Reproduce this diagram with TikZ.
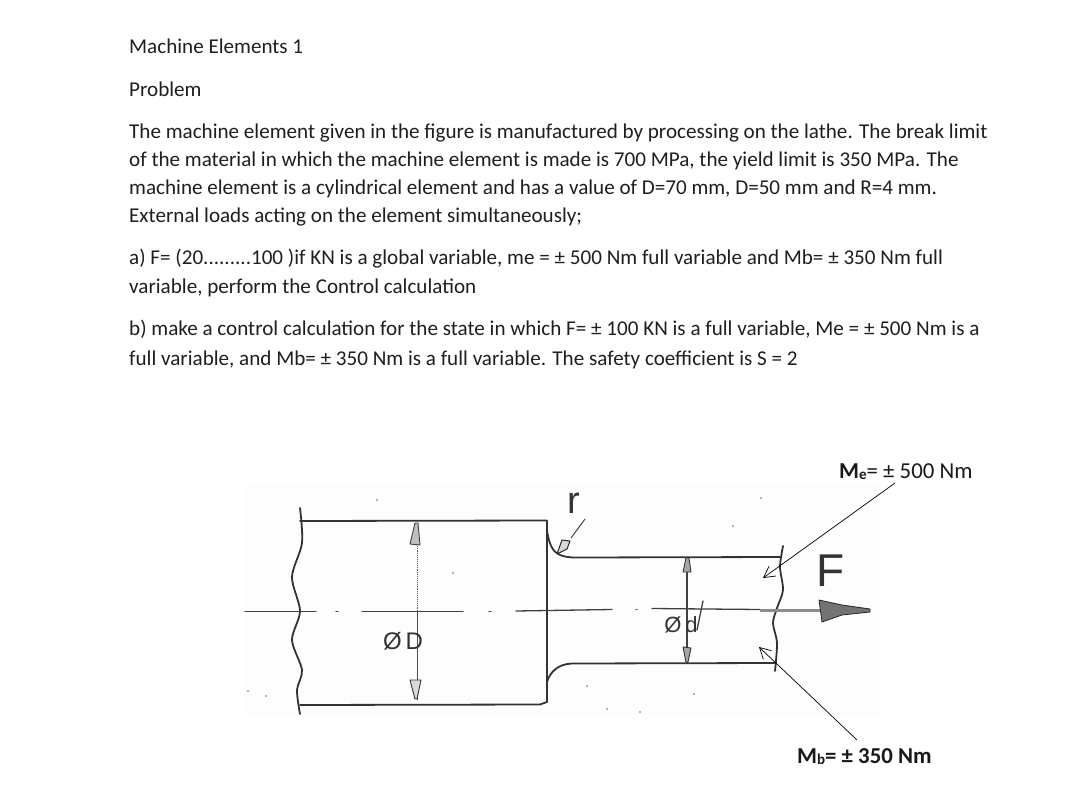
\documentclass[tikz,border=0pt]{standalone}
\usepackage{fontspec}
\setmainfont{Carlito}
\usetikzlibrary{arrows.meta}
\newfontfamily\handfont{Liberation Sans}
\tikzset{
  body/.style={anchor=base west,inner sep=0pt,font=\fontsize{21.1}{25}\selectfont,text=black!88},
  lbl/.style={anchor=base west,inner sep=0pt,font=\fontsize{22.8}{27}\selectfont,text=black!90},
  ink/.style={draw=black!80,line width=1.8pt,line cap=round,line join=round},
  thinink/.style={draw=black!75,line width=1.3pt,line cap=round},
  leader/.style={draw=black,line width=.7pt,-{Straight Barb[length=11pt,width=12pt,line width=.7pt]}},
  hand/.style={inner sep=0pt,text=black!80},
  speck/.style={fill=black!60,draw=none}
}
\begin{document}
\begin{tikzpicture}[x=1pt,y=-1pt]
\useasboundingbox[fill=white] (0,0) rectangle (1080,811);
% texts
\node[body] (t1) at (129,53) {Machine Elements 1};
\node[body] (t2) at (129,96) {Problem};
\node[body] (t3) at (129,138) {The machine element given in the figure is manufactured by processing on the lathe. The break limit};
\node[body] (t4) at (129,166) {of the material in which the machine element is made is 700 MPa, the yield limit is 350 MPa. The};
\node[body] (t5) at (129,194) {machine element is a cylindrical element and has a value of D=70 mm, D=50 mm and R=4 mm.};
\node[body] (t6) at (129,222) {External loads acting on the element simultaneously;};
\node[body] (t7) at (129,264) {a) F= (20.........100 )if KN is a global variable, me = ± 500 Nm full variable and Mb= ± 350 Nm full};
\node[body] (t8) at (129,293) {variable, perform the Control calculation};
\node[body] (t9) at (129,335) {b) make a control calculation for the state in which F= ± 100 KN is a full variable, Me = ± 500 Nm is a};
\node[body] (t10) at (129,365) {full variable, and Mb= ± 350 Nm is a full variable. The safety coefficient is S = 2};
% faint scan background
\fill[black!0.8] (245,485) rectangle (880,715);
% part outline
\draw[ink] (300,521) -- (547,520.5);
\draw[ink] (300,705) -- (540,704.5) -- (547,702);
\draw[ink] (547,521) -- (547,702);
\draw[ink] (547,530) .. controls (549,545) and (553,552) .. (560,555) .. controls (565,557) and (570,557.5) .. (576,557.5) -- (781,557);
\draw[ink] (547,682) .. controls (550,672) and (558,664) .. (572,663.5) -- (776,663);
% broken ends
\draw[ink] plot[smooth] coordinates {(300,508) (302,543) (292,577) (300,611) (292,640) (302,670) (297,690) (300,714)};
\draw[ink] plot[smooth] coordinates {(783,546) (780,567) (783,590) (777,608) (773,623) (777,643) (775,671)};
% centre line
\draw[thinink] (245,611.5) -- (316,611.5);
\draw[thinink] (336,611.5) -- (338,611.5);
\draw[thinink] (362,611.5) -- (463,611.5);
\draw[thinink] (489,611.5) -- (491,611.5);
\draw[thinink] (516,611) -- (612,609.5);
\draw[thinink] (636,609.5) -- (637,609.5);
\draw[thinink] (652,608.5) -- (760,609.5);
% D dimension
\draw[draw=black!65,line width=.9pt,densely dotted] (417,521) -- (417,611);
\draw[draw=black!70,line width=1pt] (417,611) -- (417,700);
\filldraw[fill=black!25,draw=black!75,line width=.9pt,line join=round] (415,523) -- (418,523) -- (420,545) -- (410,544) -- cycle;
\filldraw[fill=black!15,draw=black!80,line width=.9pt,line join=round] (410,680) -- (421,680) -- (417,699) -- (415,699) -- cycle;
\node[hand,font=\handfont\fontsize{24}{24}\selectfont] (dD) at (403,641) {Ø\,D};
% d dimension
\draw[draw=black!75,line width=1.1pt] (687,557) -- (687,663);
\filldraw[fill=black!35,draw=black!80,line width=.9pt,line join=round] (686,558) -- (689,558) -- (691,572) -- (683,572) -- cycle;
\filldraw[fill=black!35,draw=black!80,line width=.9pt,line join=round] (683,647) -- (691,648) -- (688,662) -- (686,662) -- cycle;
\node[hand,font=\handfont\fontsize{22}{22}\selectfont] (dd) at (681,625) {Ø\,d};
\draw[thinink] (703,601) -- (697,630);
% r leader
\draw[draw=black!80,line width=.9pt,line join=round] (585,519) -- (571,538);
\filldraw[fill=black!15,draw=black!85,line width=1pt,line join=round] (557,554) -- (562,540) -- (570,541) -- (567,549) -- cycle;
\node[hand,font=\handfont\fontsize{38}{38}\selectfont] (rr) at (574,503) {r};
% force
\draw[draw=black!45,line width=3pt] (760,610) -- (822,610);
\filldraw[fill=black!55,draw=black!85,line width=.8pt,line join=round] (819,600) -- (842,605) -- (870,609) -- (870,612) -- (842,615) -- (822,622) -- cycle;
\node[hand,font=\handfont\fontsize{46}{46}\selectfont] (ff) at (831,571) {F};
% labels
\node[lbl] (me) at (839,478) {\textbf{M}{\fontsize{15}{15}\selectfont\raisebox{-1.5pt}{\textbf{e}}}= ± 500 Nm};
\node[lbl,font=\bfseries\fontsize{22.8}{27}\selectfont] (mb) at (797,763) {M{\fontsize{15}{15}\selectfont\raisebox{-1.5pt}{b}}= ± 350 Nm};
\coordinate (mea) at (895,483);
\coordinate (meb) at (763,578);
\coordinate (mba) at (857,740);
\coordinate (mbb) at (759,647);
\draw[leader] (mea) -- (meb);
\draw[leader] (mba) -- (mbb);
% specks
\foreach \p in {(377,500),(453,573),(248,691),(266,696),(607,709),(761,498),(733,526),(694,694),(640,712),(587,686)}
  \fill[speck] \p circle (.9pt);
\end{tikzpicture}
\end{document}
